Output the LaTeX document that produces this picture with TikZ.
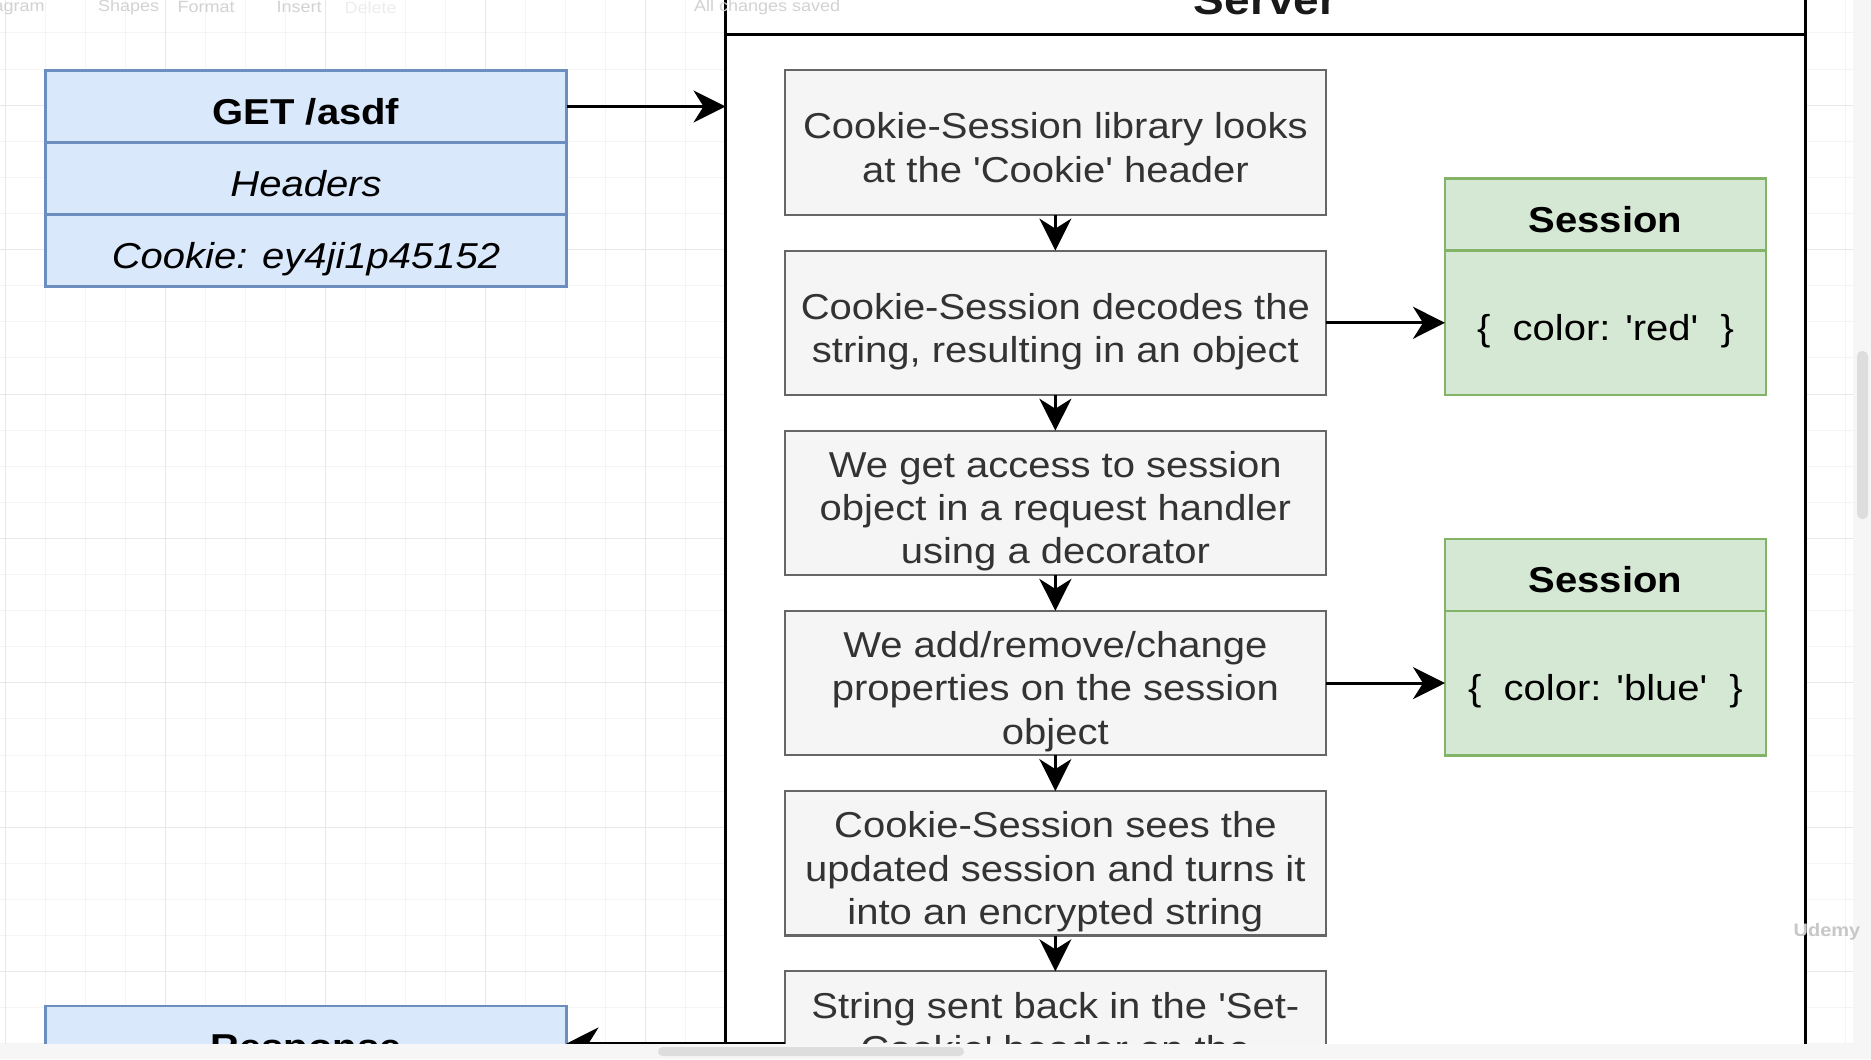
\documentclass[tikz,border=0pt]{standalone}
\usepackage{fontspec}
\setmainfont{Liberation Sans}[Ligatures=TeXOff]
\usepackage{graphicx}
\usetikzlibrary{arrows.meta}
\definecolor{getfill}{HTML}{DAE8FC}
\definecolor{getdraw}{HTML}{6C8EBF}
\definecolor{sessfill}{HTML}{D5E8D4}
\definecolor{sessdraw}{HTML}{82B366}
\definecolor{stepfill}{HTML}{F5F5F5}
\definecolor{stepdraw}{HTML}{666666}
\definecolor{steptext}{HTML}{333333}
\definecolor{gridminor}{HTML}{F4F4F4}
\definecolor{gridmajor}{HTML}{E8E8E8}
\definecolor{uibg}{HTML}{F6F6F6}
\definecolor{uithumb}{HTML}{DDDDDD}
\definecolor{uitext}{HTML}{D2D2D2}
\newcommand\sqtext[1]{\raisebox{-4.6pt}[\height][\depth]{\scalebox{1}[0.9]{\begin{tabular}{@{}c@{}}#1\end{tabular}}}}
\tikzset{
  txtbase/.style={inner sep=0pt, outer sep=0pt, font=\fontsize{20}{24}\selectfont},
  stepbox/.style={txtbase, draw=stepdraw, fill=stepfill, line width=1.1pt,
    minimum width=270.25pt, minimum height=72.2pt, text=steptext},
  getrow/.style={txtbase, draw=getdraw, fill=getfill, line width=1.2pt,
    minimum width=260.5pt, minimum height=36pt, text=black},
  sesshead/.style={txtbase, draw=sessdraw, fill=sessfill, line width=1.2pt,
    minimum width=160.5pt, minimum height=36pt, text=black},
  sessbody/.style={txtbase, draw=sessdraw, fill=sessfill, line width=1.2pt,
    minimum width=160.5pt, minimum height=72.2pt, text=black},
  srvbox/.style={draw=black, fill=white, line width=1.3pt, inner sep=0pt,
    outer sep=0pt, minimum width=540pt, minimum height=595pt},
  arr/.style={draw=black, line width=1.4pt, -{Stealth[length=16pt,width=16pt,inset=5pt]}},
  gridmin/.style={draw=gridminor, line width=0.5pt},
  gridmaj/.style={draw=gridmajor, line width=0.5pt},
  uilabel/.style={inner sep=0pt, text=uitext, font=\fontsize{9}{11}\selectfont},
}
\begin{document}
\begin{tikzpicture}[x=0.5pt, y=-0.5pt]
\useasboundingbox (0,0) rectangle (1871,1059);
\fill[uibg] (0,0) rectangle (1871,1059);
\begin{scope}
\clip (0,0) rectangle (1853,1043.5);
\fill[white] (0,0) rectangle (1871,1059);
% grid
\foreach \gx in {5,45,...,1845} \draw[gridmin] (\gx,0) -- (\gx,1059);
\foreach \k in {-10,...,18} \draw[gridmin] (0,{394+36.1*\k}) -- (1871,{394+36.1*\k});
\foreach \gx in {5,165,...,1845} \draw[gridmaj] (\gx,0) -- (\gx,1059);
\foreach \k in {-3,...,4} \draw[gridmaj] (0,{394+144.4*\k}) -- (1871,{394+144.4*\k});

% server container
\node[srvbox] (server) at (1265.5,535) {};
\coordinate (tdl) at (725.5,34.6);
\coordinate (tdr) at (1805.5,34.6);
\draw[line width=1.3pt] (tdl) -- (tdr);
\node[anchor=base, inner sep=0pt, text=black!90, font=\fontsize{23}{27}\selectfont\bfseries] (srvtitle) at (1265.5,15) {\scalebox{1}[0.9]{Server}};

% request
\node[getrow] (get1) at (306,106.5) {\sqtext{\textbf{GET /asdf}}};
\node[getrow] (get2) at (306,178.5) {\sqtext{\textit{Headers}}};
\node[getrow] (get3) at (306,250.5) {\sqtext{\textit{Cookie: ey4ji1p45152}}};

% response
\node[getrow] (resp) at (306,1042) {\sqtext{\textbf{Response}}};

% steps
\node[stepbox] (box1) at (1055.35,142.6) {\sqtext{Cookie-Session library looks\\at the 'Cookie' header}};
\node[stepbox] (box2) at (1055.35,322.8) {\sqtext{Cookie-Session decodes the\\string, resulting in an object}};
\node[stepbox] (box3) at (1055.35,502.9) {\sqtext{We get access to session\\object in a request handler\\using a decorator}};
\node[stepbox] (box4) at (1055.35,683.1) {\sqtext{We add/remove/change\\properties on the session\\object}};
\node[stepbox] (box5) at (1055.35,863.3) {\sqtext{Cookie-Session sees the\\updated session and turns it\\into an encrypted string}};
\node[stepbox] (box6) at (1055.35,1043.5) {\sqtext{String sent back in the 'Set-\\Cookie' header on the\\ \mbox{}}};

% sessions
\node[sesshead] (s1h) at (1605.5,214.6) {\sqtext{\textbf{Session}}};
\node[sessbody] (s1b) at (1605.5,322.8) {\sqtext{\{\ \ color: 'red'\ \ \}}};
\node[sesshead] (s2h) at (1605.5,574.9) {\sqtext{\textbf{Session}}};
\node[sessbody] (s2b) at (1605.5,683.1) {\sqtext{\{\ \ color: 'blue'\ \ \}}};

% connectors
\draw[arr] (get1.east) -- (get1.east -| server.west);
\draw[arr] (box1.south) -- (box2.north);
\draw[arr] (box2.south) -- (box3.north);
\draw[arr] (box3.south) -- (box4.north);
\draw[arr] (box4.south) -- (box5.north);
\draw[arr] (box5.south) -- (box6.north);
\draw[arr] (box2.east) -- (s1b.west);
\draw[arr] (box4.east) -- (s2b.west);
\draw[arr] (box6.west) -- (box6.west -| resp.east);
\end{scope}

% editor chrome
\fill[uithumb, rounded corners=2.2pt] (658,1047) rectangle (964,1056);
\fill[uithumb, rounded corners=2.5pt] (1857,351) rectangle (1868,519);
\node[uilabel, anchor=east] (tbdiag) at (45,7.3) {\scalebox{1}[0.9]{Diagram}};
\node[uilabel] (tbshapes) at (128.6,7.3) {\scalebox{1}[0.9]{Shapes}};
\node[uilabel] (tbformat) at (206.1,7.3) {\scalebox{1}[0.9]{Format}};
\node[uilabel] (tbinsert) at (299.1,7.3) {\scalebox{1}[0.9]{Insert}};
\node[uilabel, text=black!7] (tbdelete) at (370.7,7.3) {\scalebox{1}[0.9]{Delete}};
\node[uilabel] (tbsaved) at (767.2,7.3) {\scalebox{1}[0.9]{All changes saved}};
\node[uilabel, text=black!22, font=\fontsize{10}{12}\selectfont\bfseries] (udemy) at (1827,932) {\scalebox{1}[0.9]{Udemy}};
\end{tikzpicture}
\end{document}
